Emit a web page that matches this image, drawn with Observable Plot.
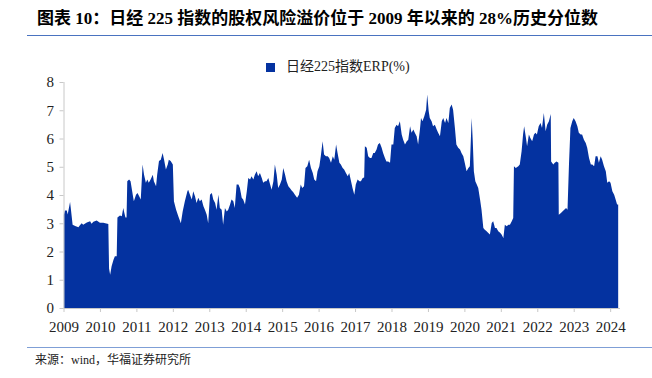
<!DOCTYPE html>
<html><head><meta charset="utf-8">
<script src="https://cdn.jsdelivr.net/npm/d3@7"></script>
<script src="https://cdn.jsdelivr.net/npm/@observablehq/plot@0.6"></script>
<style>
body{margin:0;background:#fff;width:652px;height:378px;position:relative;overflow:hidden;font-family:"Liberation Serif","Noto Sans CJK SC",serif;}
#title{position:absolute;left:37px;top:9px;font-size:17px;font-weight:bold;color:#000;white-space:nowrap;line-height:20px;}
#tline{position:absolute;left:27px;right:0;top:35px;height:0;border-top:1.5px solid #4a73c0;}
#legend{position:absolute;left:266px;top:58px;font-size:14px;color:#222;white-space:nowrap;display:flex;align-items:center;z-index:2;line-height:18px;}
#legend .sw{width:9px;height:9px;background:#0432A0;margin-right:11px;}
#chart{position:absolute;left:0;top:60px;z-index:1;}
#bline{position:absolute;left:27px;right:0;top:347px;height:0;border-top:1.5px solid #7f9fd6;}
#source{position:absolute;left:35px;top:352px;font-size:12px;color:#222;white-space:nowrap;line-height:16px;}
</style>
</head><body>
<div id="title">图表 10：日经 225 指数的股权风险溢价位于 2009 年以来的 28%历史分位数</div>
<div id="tline"></div>
<div id="legend"><span class="sw"></span><span>日经225指数ERP(%)</span></div>
<div id="chart"></div>
<div id="bline"></div>
<div id="source">来源：wind，华福证券研究所</div>
<script>
const seriesName = "日经225指数ERP(%)";
const years = [2009,2010,2011,2012,2013,2014,2015,2016,2017,2018,2019,2020,2021,2022,2023,2024];
const yTicks = [0,1,2,3,4,5,6,7,8];
// time as decimal years
const t = [
2009.01,2009.04,2009.09,2009.115,2009.15,2009.18,2009.21,2009.25,2009.32,2009.41,2009.45,2009.50,2009.54,2009.64,2009.73,2009.77,2009.82,2009.91,2010.00,2010.09,
2010.23,2010.25,2010.28,2010.32,2010.37,2010.41,2010.46,2010.48,2010.55,2010.60,2010.64,2010.67,2010.70,2010.73,2010.75,2010.80,2010.84,2010.90,2010.93,2010.99,
2011.03,2011.08,2011.12,2011.17,2011.21,2011.26,2011.30,2011.34,2011.39,2011.45,2011.48,2011.54,2011.57,2011.62,2011.67,2011.72,2011.76,2011.81,2011.86,2011.89,
2011.94,2012.00,2012.03,2012.09,2012.15,2012.22,2012.27,2012.33,2012.40,2012.42,2012.47,2012.52,2012.56,2012.61,2012.65,2012.70,2012.74,2012.79,2012.84,2012.88,
2012.93,2012.97,2013.02,2013.07,2013.11,2013.16,2013.20,2013.25,2013.29,2013.34,2013.38,2013.43,2013.48,2013.52,2013.57,2013.61,2013.66,2013.70,2013.75,2013.80,
2013.84,2013.89,2013.93,2013.98,2014.03,2014.07,2014.12,2014.16,2014.21,2014.25,2014.30,2014.34,2014.39,2014.44,2014.48,2014.53,2014.57,2014.62,2014.67,2014.71,
2014.76,2014.80,2014.85,2014.89,2014.94,2014.99,2015.03,2015.08,2015.12,2015.17,2015.21,2015.26,2015.30,2015.35,2015.41,2015.46,2015.51,2015.55,2015.60,2015.64,
2015.69,2015.74,2015.79,2015.84,2015.88,2015.93,2015.97,2016.02,2016.06,2016.11,2016.15,2016.20,2016.25,2016.29,2016.34,2016.39,2016.43,2016.48,2016.52,2016.57,
2016.61,2016.66,2016.70,2016.75,2016.80,2016.84,2016.89,2016.93,2016.98,2017.02,2017.07,2017.12,2017.16,2017.21,2017.25,2017.27,2017.32,2017.36,2017.41,2017.45,
2017.50,2017.54,2017.59,2017.63,2017.68,2017.73,2017.77,2017.82,2017.86,2017.91,2017.96,2018.00,2018.05,2018.09,2018.14,2018.18,2018.23,2018.28,2018.32,2018.37,
2018.42,2018.46,2018.51,2018.55,2018.60,2018.64,2018.69,2018.73,2018.78,2018.81,2018.85,2018.90,2018.95,2018.98,2019.02,2019.05,2019.10,2019.14,2019.19,2019.24,
2019.28,2019.33,2019.38,2019.42,2019.47,2019.51,2019.56,2019.60,2019.65,2019.69,2019.74,2019.78,2019.83,2019.88,2019.92,2019.97,2020.01,2020.06,2020.11,2020.15,
2020.20,2020.23,2020.26,2020.30,2020.34,2020.38,2020.43,2020.47,2020.52,2020.56,2020.61,2020.65,2020.70,2020.75,2020.79,2020.84,2020.88,2020.93,2020.98,2021.02,
2021.07,2021.11,2021.16,2021.21,2021.25,2021.30,2021.34,2021.36,2021.41,2021.48,2021.52,2021.57,2021.61,2021.64,2021.69,2021.72,2021.77,2021.81,2021.86,2021.91,
2021.95,2021.99,2022.04,2022.09,2022.13,2022.18,2022.23,2022.27,2022.32,2022.37,2022.38,2022.44,2022.48,2022.53,2022.58,2022.59,2022.65,2022.69,2022.74,2022.79,
2022.83,2022.87,2022.91,2022.96,2023.00,2023.05,2023.10,2023.14,2023.19,2023.23,2023.28,2023.33,2023.37,2023.42,2023.47,2023.51,2023.56,2023.60,2023.65,2023.69,
2023.74,2023.78,2023.83,2023.88,2023.92,2023.97,2024.01,2024.06,2024.11,2024.15,2024.19,2024.22
];
const erp = [
3.30,3.45,3.45,3.31,3.55,3.75,3.42,2.95,2.90,2.86,2.93,3.00,2.95,3.03,3.07,2.98,3.05,3.10,3.02,3.02,
2.97,1.40,1.18,1.48,1.70,1.83,1.83,3.20,3.27,3.25,3.54,3.36,3.20,3.20,4.49,4.55,4.49,4.01,3.78,4.01,
4.07,3.95,3.84,5.08,4.72,4.43,4.55,4.43,4.55,4.72,4.49,4.31,4.72,5.20,5.25,5.49,5.25,4.90,5.08,5.25,
5.20,5.08,3.78,3.48,3.25,3.00,3.42,3.78,4.13,4.19,4.01,3.84,4.13,3.95,3.72,3.90,3.78,3.84,3.60,3.48,
3.30,3.00,4.01,4.07,3.84,3.72,3.48,4.01,3.54,3.48,2.95,3.54,3.42,3.48,3.66,3.84,3.78,3.54,4.37,4.37,
4.25,3.90,3.84,3.66,4.13,4.60,4.55,4.66,4.55,4.72,4.84,4.66,4.78,4.60,4.43,4.49,4.49,4.60,4.37,4.19,
4.49,5.08,4.72,4.25,4.37,4.55,4.96,4.72,4.49,4.31,4.25,4.16,4.11,4.01,3.90,4.01,4.37,4.25,4.31,4.96,
5.02,5.25,4.96,4.78,4.55,4.49,4.84,5.02,5.37,5.90,5.43,5.37,5.37,5.31,5.14,5.37,5.25,5.79,5.49,5.14,
5.08,4.96,4.90,4.78,4.66,4.78,4.49,4.25,4.01,4.37,4.55,4.49,4.49,4.60,4.62,5.73,5.67,5.37,5.31,5.31,
5.49,5.49,5.61,5.79,5.84,5.67,5.49,5.31,5.19,5.19,5.14,5.79,5.79,6.37,6.49,6.43,6.61,6.14,5.96,5.79,
5.90,5.96,6.43,6.20,6.32,6.20,6.08,5.79,6.32,6.73,6.61,6.79,7.02,7.56,6.97,6.73,6.61,6.43,6.49,6.32,
6.20,6.08,6.61,6.73,6.55,6.73,6.55,7.08,7.20,7.02,6.37,5.79,5.67,5.61,5.49,5.37,5.14,4.84,4.96,5.02,
6.73,5.90,4.84,4.49,4.37,4.25,3.84,3.48,2.83,2.77,2.72,2.66,2.60,3.01,3.07,2.83,2.83,2.72,2.66,2.60,
2.48,2.95,2.89,2.95,2.95,3.07,3.19,5.02,4.96,5.02,5.08,5.55,6.14,6.43,6.02,5.73,6.14,6.02,5.90,6.14,
6.20,6.14,6.43,6.55,6.37,6.90,6.26,6.49,6.61,6.87,5.19,5.08,5.14,5.19,5.14,3.30,3.36,3.42,3.48,3.54,
3.48,5.08,6.37,6.61,6.73,6.61,6.43,6.20,6.14,6.14,5.96,5.84,5.67,5.31,5.08,5.08,5.02,5.37,5.37,5.14,
5.37,5.25,5.02,4.84,4.43,4.49,4.43,4.13,4.01,3.84,3.66,3.66
];
const data = t.map((d, i) => ({t: d, v: erp[i], s: seriesName}));
const axisGray = "#c8c8c8";
const chart = Plot.plot({
  width: 652, height: 280,
  marginTop: 22, marginBottom: 32, marginLeft: 63.5, marginRight: 32,
  style: {background: "transparent", fontFamily: '"Liberation Serif","Noto Sans CJK SC",serif', fontSize: "15px", color: "#222"},
  x: {type: "linear", domain: [2009, 2024.27], label: null},
  y: {domain: [0, 8], label: null},
  marks: [
    Plot.areaY(data, {x: "t", y: "v", fill: "#0432A0", curve: "linear"}),
    Plot.ruleY([0], {stroke: axisGray, strokeWidth: 1}),
    Plot.ruleX([2009], {stroke: axisGray, strokeWidth: 1}),
    Plot.axisX({ticks: years, tickSize: 4, stroke: axisGray, tickFormat: () => ""}),
    Plot.axisX({ticks: years, tickSize: 0, tickPadding: 13, fill: "#222", tickFormat: d => String(d)}),
    Plot.axisY({ticks: yTicks, tickSize: 4, stroke: axisGray, tickFormat: () => ""}),
    Plot.axisY({ticks: yTicks, tickSize: 0, tickPadding: 10, fill: "#222", tickFormat: d => String(d)})
  ]
});
document.getElementById("chart").appendChild(chart);
</script>
</body></html>
